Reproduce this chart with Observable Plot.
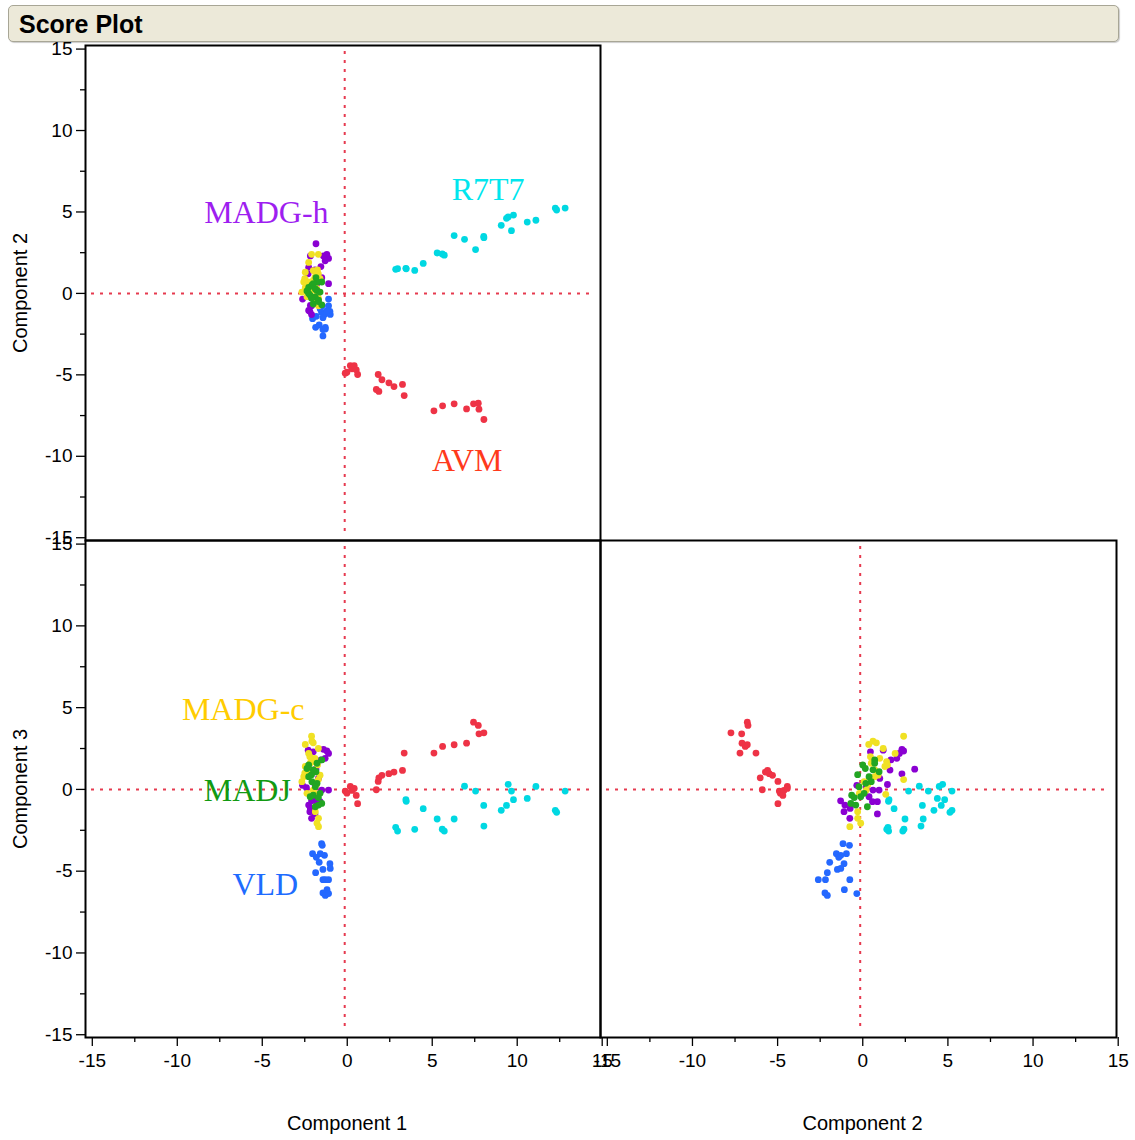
<!DOCTYPE html>
<html><head><meta charset="utf-8">
<script src="https://cdn.jsdelivr.net/npm/d3@7"></script>
<script src="https://cdn.jsdelivr.net/npm/@observablehq/plot@0.6"></script>
<style>
body{margin:0;background:#fff;font-family:"Liberation Sans",Arial,sans-serif;}
#wrap{position:relative;width:1135px;height:1140px;overflow:hidden;}
#title{position:absolute;left:8px;top:5px;width:1111px;height:37px;background:#ECE9D9;border:1px solid #A8A696;border-radius:5px;box-sizing:border-box;font-weight:bold;font-size:25px;line-height:37px;padding-left:10px;color:#000;box-shadow:1px 1px 1px #ccc;}
.panel{position:absolute;overflow:visible;}
.panel svg{overflow:visible;}
</style></head><body>
<div id="wrap"><div id="title">Score Plot</div></div>
<script>
// ---- data ----
const groups = ["VLD","AVM","R7T7","MADG-h","MADG-c","MADJ"];
const pointColors = ["#2468FF","#EE3346","#00D8E2","#8A00D2","#F0E124","#22A522"];

const madghC1 = [-1.84,-1.2,-1.1,-1.4,-1.3,-1.55,-2.17,-2.27,-1.9,-1.7,-1.1,-2.3,-2.0,-2.63,-2.17,-2.27,-2.1,-2.0,-1.8,-1.6,-2.2,-2.1,-1.9,-1.5,-2.4];
const madghC2 = [3.05,2.4,2.15,2.3,2.0,1.65,2.3,1.6,1.45,1.0,0.6,1.2,0.45,-0.35,-0.74,-1.05,-1.3,0.37,0.57,0.86,-1.1,-0.76,0.86,0.96,0.2];
const madghC3 = [1.24,2.35,2.2,2.45,1.9,1.8,0.95,1.18,0.3,0.67,-0.04,2.4,2.3,0.25,-1.16,-0.96,-0.7,-0.45,-0.75,-0.75,-1.36,-1.77,-1.5,-0.04,0.1];

const madgcC1 = [-2.1,-2.08,-2.47,-2.0,-1.7,-2.27,-2.0,-2.47,-1.9,-2.3,-2.18,-1.6,-2.56,-1.75,-1.7,-2.67,-2.37,-2.0,-1.88,-1.88,-1.69,-1.78,-1.69,-2.2,-2.5,-1.8];
const madgcC2 = [2.4,0.6,0.35,0.8,1.2,1.9,1.4,1.3,1.0,0.7,0.5,0.9,0.7,1.45,2.4,0.08,-0.2,0.2,1.35,-0.3,-0.3,-0.12,-0.76,0.45,0.9,0.3];
const madgcC3 = [3.25,2.95,2.75,2.85,2.5,2.2,1.7,1.4,1.9,1.2,1.6,0.87,0.78,1.5,0.6,0.47,-0.24,-0.05,-0.3,-1.36,-1.77,-2.07,-2.28,2.0,1.0,0.3];

const madjC1 = [-2.27,-2.37,-1.84,-2.27,-2.08,-1.78,-1.88,-1.6,-2.18,-2.0,-1.5,-1.69,-1.88,-1.5,-1.78,-2.1,-1.7,-2.0];
const madjC2 = [0.0,0.15,0.96,0.37,0.5,0.18,-0.22,0.08,-0.12,-0.65,-0.7,-0.41,0.27,0.7,0.7,-0.3,-0.5,0.6];
const madjC3 = [1.5,1.28,1.08,0.78,0.47,0.37,0.17,-0.24,-0.45,-0.35,-0.86,-0.96,-1.06,1.8,1.6,0.9,-0.5,1.2];

const r7t7C1 = [2.85,2.96,3.45,3.47,3.97,4.47,5.29,5.59,5.71,6.29,6.9,7.55,8.03,8.04,9.06,9.37,9.47,9.66,9.78,10.59,11.1,12.24,12.32,12.82];
const r7t7C2 = [1.48,1.52,1.54,1.51,1.41,1.84,2.48,2.42,2.35,3.55,3.32,2.69,3.5,3.42,4.18,4.61,4.69,3.85,4.81,4.38,4.49,5.24,5.12,5.24];
const r7t7C3 = [-2.32,-2.55,-0.63,-0.73,-2.44,-1.18,-1.81,-2.43,-2.55,-1.81,0.2,-0.1,-0.98,-2.24,-1.28,-0.98,0.31,-0.1,-0.63,-0.55,0.18,-1.28,-1.4,-0.1];

const avmC1 = [-0.12,-0.02,0.18,0.28,0.41,0.53,0.61,1.71,1.82,1.86,2.04,2.45,2.75,3.25,3.35,5.1,5.61,6.29,7.02,7.43,7.71,7.75,8.04];
const avmC2 = [-4.9,-4.84,-4.43,-4.63,-4.43,-4.69,-4.98,-5.9,-4.98,-6.02,-5.3,-5.49,-5.72,-5.59,-6.27,-7.21,-6.9,-6.78,-7.09,-6.78,-6.74,-7.11,-7.74];
const avmC3 = [-0.1,-0.23,0.18,-0.06,0.06,-0.37,-0.87,-0.02,0.49,0.71,0.86,0.96,1.06,1.16,2.22,2.22,2.63,2.73,2.83,4.11,3.91,3.4,3.46];

const vldC1 = [-1.51,-1.47,-2.04,-1.59,-1.34,-1.82,-1.65,-1.02,-1.43,-1.0,-1.86,-1.43,-1.29,-1.1,-1.19,-1.43,-1.29,-1.1];
const vldC2 = [-1.16,-0.78,-1.55,-0.96,-1.29,-1.41,-1.94,-1.1,-1.49,-1.29,-2.08,-2.61,-2.19,-0.76,-1.08,-2.22,-2.08,-0.35];
const vldC3 = [-3.32,-3.42,-3.93,-3.93,-4.03,-4.15,-4.46,-4.54,-4.89,-4.83,-5.09,-5.52,-5.52,-5.52,-6.13,-6.33,-6.48,-6.37];

const majorTicks = [-15,-10,-5,0,5,10,15];
const minorTicks = [-12.5,-7.5,-2.5,2.5,7.5,12.5];
const refLine = [-0.15];

// group labels (text, colour, anchor in data units of the panel they sit in)
const labelsTop = [
  {text:"MADG-h", color:"#9E1EF0", x:-4.76, y:4.98},
  {text:"R7T7",   color:"#00E6EE", x:8.29,  y:6.39},
  {text:"AVM",    color:"#FF3A1C", x:7.06,  y:-10.26}
];
const labelsBottom = [
  {text:"MADG-c", color:"#FFCC00", x:-6.12, y:4.89},
  {text:"MADJ",   color:"#129A12", x:-5.88, y:-0.06},
  {text:"VLD",    color:"#1E6CFF", x:-4.82, y:-5.86}
];

// ---- table ----
const series = [
  ["VLD", vldC1, vldC2, vldC3],
  ["AVM", avmC1, avmC2, avmC3],
  ["R7T7", r7t7C1, r7t7C2, r7t7C3],
  ["MADG-h", madghC1, madghC2, madghC3],
  ["MADG-c", madgcC1, madgcC2, madgcC3],
  ["MADJ", madjC1, madjC2, madjC3]
];
const rows = [];
for (const [g, a, b, c] of series) a.forEach((v, i) => rows.push({group: g, c1: v, c2: b[i], c3: c[i]}));

const xDomain = [-15.4, 14.9];
const yDomain = [-15.17, 15.22];
const refColor = "#E63A4F";
const fmt = d => String(d);

function panel({xKey, yKey, showX, showY, xLabel, yLabel, labels, left, top, width, height, margin}) {
  const marks = [
    Plot.ruleX(refLine, {stroke: refColor, strokeWidth: 2, strokeDasharray: "3,6", insetTop: 6, insetBottom: 6}),
    Plot.ruleY(refLine.map(() => 0), {stroke: refColor, strokeWidth: 2, strokeDasharray: "3,6", insetLeft: 6, insetRight: 6}),
    Plot.dot(rows, {x: xKey, y: yKey, fill: "group", r: 3.4})
  ];
  for (const l of labels) {
    marks.push(Plot.text([l], {x: "x", y: "y", text: "text", fill: l.color, fontSize: 32,
      fontFamily: "'Liberation Serif','Times New Roman',serif", textAnchor: "middle", lineAnchor: "middle"}));
  }
  marks.push(Plot.frame({stroke: "#000", strokeWidth: 2}));
  if (showX) {
    marks.push(Plot.axisX({ticks: majorTicks, tickSize: 9, tickPadding: 7, tickFormat: fmt, fontSize: 19,
      label: null, strokeWidth: 1.3}));
    marks.push(Plot.axisX({ticks: minorTicks, tickSize: 5, tickFormat: () => "", label: null, strokeWidth: 1.3}));
    marks.push(Plot.text([xLabel], {frameAnchor: "bottom", dy: 86, text: d => d, fontSize: 20, textAnchor: "middle", lineAnchor: "middle", dx: 4}));
  }
  if (showY) {
    marks.push(Plot.axisY({ticks: majorTicks, tickSize: 9, tickPadding: 4, tickFormat: fmt, fontSize: 19,
      label: null, strokeWidth: 1.3}));
    marks.push(Plot.axisY({ticks: minorTicks, tickSize: 5, tickFormat: () => "", label: null, strokeWidth: 1.3}));
    marks.push(Plot.text([yLabel], {frameAnchor: "left", dx: -65, text: d => d, fontSize: 20, rotate: -90, textAnchor: "middle", lineAnchor: "middle"}));
  }
  const svg = Plot.plot({
    width, height,
    marginTop: margin[0], marginRight: margin[1], marginBottom: margin[2], marginLeft: margin[3],
    x: {domain: xDomain, axis: null},
    y: {domain: yDomain, axis: null},
    color: {domain: groups, range: pointColors},
    style: {fontSize: "19px", fontFamily: "'Liberation Sans',Arial,sans-serif", color: "#000", background: "transparent", overflow: "visible"},
    marks
  });
  const div = document.createElement("div");
  div.className = "panel";
  div.style.left = left + "px";
  div.style.top = top + "px";
  div.appendChild(svg);
  document.getElementById("wrap").appendChild(div);
}

panel({xKey: "c1", yKey: "c2", showX: false, showY: true, yLabel: "Component 2", labels: labelsTop,
  left: 0, top: 40, width: 605, height: 505, margin: [5, 5, 5, 85]});
panel({xKey: "c1", yKey: "c3", showX: true, showY: true, xLabel: "Component 1", yLabel: "Component 3", labels: labelsBottom,
  left: 0, top: 535, width: 605, height: 605, margin: [5, 5, 103, 85]});
panel({xKey: "c2", yKey: "c3", showX: true, showY: false, xLabel: "Component 2", labels: [],
  left: 515, top: 535, width: 620, height: 605, margin: [5, 19, 103, 85]});
</script>
</body></html>
